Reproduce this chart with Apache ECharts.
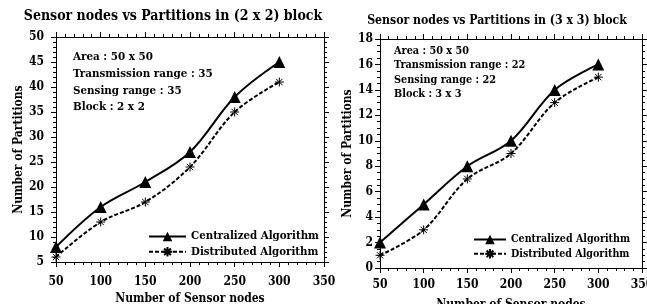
<!DOCTYPE html>
<html>
<head>
<meta charset="utf-8">
<script src="https://cdn.jsdelivr.net/npm/echarts@6/dist/echarts.min.js"></script>
<style>
  html, body { margin: 0; padding: 0; background: #fff; }
  #chart { width: 647px; height: 304px; }
</style>
</head>
<body>
<div id="chart"></div>
<script>
var nodes = [50, 100, 150, 200, 250, 300];
// (2 x 2) block
var central2 = [8, 16, 21, 27, 38, 45];
var distrib2 = [6, 13, 17, 24, 35, 41];
// (3 x 3) block
var central3 = [2, 5, 8, 10, 14, 16];
var distrib3 = [1, 3, 7, 9, 13, 15];

var info2 = ['Area : 50 x 50', 'Transmission range : 35', 'Sensing range : 35', 'Block : 2 x 2'];
var info3 = ['Area : 50 x 50', 'Transmission range : 22', 'Sensing range : 22', 'Block : 3 x 3'];

var font = '"DejaVu Serif Condensed", "DejaVu Serif", serif';
var star = 'path://M0,-10L0,10M-10,0L10,0M-7,-7L7,7M-7,7L7,-7';

function pair(xs, ys) {
    return xs.map(function (x, i) { return [x, ys[i]]; });
}

function xAx(grid, show, margin, gap) {
    return {
        type: 'value', gridIndex: grid, min: 50, max: 350, interval: 50,
        position: show ? 'bottom' : 'top',
        axisLine: { onZero: false, lineStyle: { color: '#000', width: 1 } },
        axisTick: { show: true, length: 5, lineStyle: { color: '#000' } },
        minorTick: { show: true, splitNumber: 5, length: 3, lineStyle: { color: '#000' } },
        axisLabel: { show: show, color: '#000', fontFamily: font, fontSize: 12, fontWeight: 'bold', margin: margin },
        splitLine: { show: false },
        name: show ? 'Number of Sensor nodes' : '',
        nameLocation: 'middle', nameGap: gap,
        nameTextStyle: { color: '#000', fontFamily: font, fontSize: 12, fontWeight: 'bold' }
    };
}

function yAx(grid, show, min, max, step, minor, margin, gap) {
    return {
        type: 'value', gridIndex: grid, min: min, max: max, interval: step,
        position: show ? 'left' : 'right',
        axisLine: { show: true, lineStyle: { color: '#000', width: 1 } },
        axisTick: { show: true, length: 5, lineStyle: { color: '#000' } },
        minorTick: { show: true, splitNumber: minor, length: 3, lineStyle: { color: '#000' } },
        axisLabel: { show: show, color: '#000', fontFamily: font, fontSize: 12, fontWeight: 'bold', margin: margin },
        splitLine: { show: false },
        name: show ? 'Number of Partitions' : '',
        nameLocation: 'middle', nameGap: gap, nameRotate: 90,
        nameTextStyle: { color: '#000', fontFamily: font, fontSize: 12, fontWeight: 'bold' }
    };
}

function lines(name, data, xi, yi, dashed) {
    return {
        name: name, type: 'line', xAxisIndex: xi, yAxisIndex: yi,
        data: data, smooth: 0.35,
        symbol: dashed ? star : 'triangle',
        symbolSize: dashed ? 9 : 12,
        itemStyle: dashed ? { color: '#000', borderColor: '#000', borderWidth: 1 } : { color: '#000' },
        lineStyle: { color: '#000', width: 2, type: dashed ? [4, 2] : 'solid' }
    };
}

var chart = echarts.init(document.getElementById('chart'));
var option = {
    animation: false,
    backgroundColor: '#fff',
    title: [
        { text: 'Sensor nodes vs Partitions in (2 x 2) block', left: 173, top: 9, textAlign: 'center', padding: 0,
          textStyle: { fontFamily: font, fontSize: 14, fontWeight: 'bold', color: '#000' } },
        { text: 'Sensor nodes vs Partitions in (3 x 3) block', left: 497, top: 15, textAlign: 'center', padding: 0,
          textStyle: { fontFamily: font, fontSize: 12.2, fontWeight: 'bold', color: '#000' } },
        { text: info2.join('\n'), left: 73, top: 49, padding: 0,
          textStyle: { fontFamily: font, fontSize: 11.5, fontWeight: 'bold', color: '#000', lineHeight: 16.7 } },
        { text: info3.join('\n'), left: 394, top: 44, padding: 0,
          textStyle: { fontFamily: font, fontSize: 10.8, fontWeight: 'bold', color: '#000', lineHeight: 14.4 } }
    ],
    legend: [
        { left: 148, top: 231, padding: 0, orient: 'vertical', itemWidth: 37, itemHeight: 12, itemGap: 4,
          data: ['Centralized Algorithm', 'Distributed Algorithm'],
          textStyle: { fontFamily: font, fontSize: 11.4, fontWeight: 'bold', color: '#000' } },
        { left: 473, top: 234, padding: 0, orient: 'vertical', itemWidth: 32, itemHeight: 12, itemGap: 3,
          data: ['Centralized Algorithm', 'Distributed Algorithm'],
          textStyle: { fontFamily: font, fontSize: 10.6, fontWeight: 'bold', color: '#000' } }
    ],
    grid: [
        { left: 56, top: 37, width: 268, height: 225, outerBoundsMode: 'none', containLabel: false },
        { left: 380, top: 39, width: 262, height: 229, outerBoundsMode: 'none', containLabel: false }
    ],
    xAxis: [xAx(0, true, 14, 31), xAx(0, false, 0, 0), xAx(1, true, 11, 31), xAx(1, false, 0, 0)],
    yAxis: [yAx(0, true, 5, 50, 5, 5, 12, 29), yAx(0, false, 5, 50, 5, 5, 0, 0),
            yAx(1, true, 0, 18, 2, 4, 7, 23), yAx(1, false, 0, 18, 2, 4, 0, 0)],
    series: [
        lines('Centralized Algorithm', pair(nodes, central2), 0, 0, false),
        lines('Distributed Algorithm', pair(nodes, distrib2), 0, 0, true),
        lines('Centralized Algorithm', pair(nodes, central3), 2, 2, false),
        lines('Distributed Algorithm', pair(nodes, distrib3), 2, 2, true)
    ]
};
chart.setOption(option);
</script>
</body>
</html>
